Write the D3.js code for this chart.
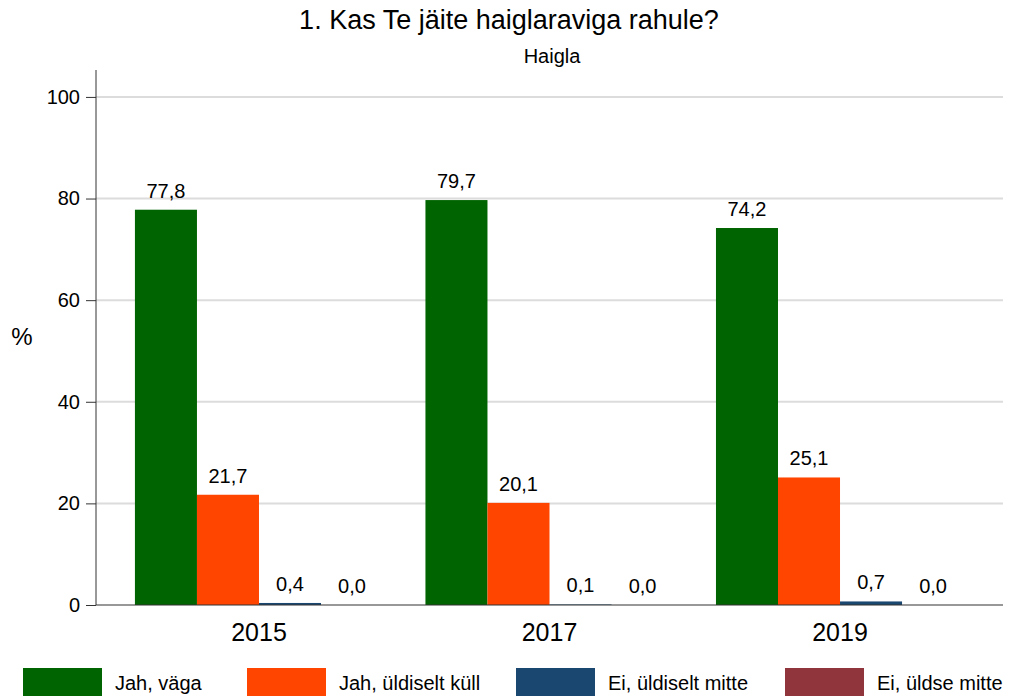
<!DOCTYPE html>
<html>
<head>
<meta charset="utf-8">
<style>
  body { margin: 0; background: #fff; font-family: "Liberation Sans", Arial, sans-serif; }
  svg text { fill: #000; }
</style>
</head>
<body>
<div id="chart"></div>
<script src="https://d3js.org/d3.v7.min.js"></script>
<script>
var years = ['2015', '2017', '2019'];
var series = ['Jah, väga', 'Jah, üldiselt küll', 'Ei, üldiselt mitte', 'Ei, üldse mitte'];
var colors = ['#006400', '#ff4500', '#1a476f', '#90353b'];
var valJahVaga = [77.8, 79.7, 74.2];
var valJahKull = [21.7, 20.1, 25.1];
var valEiMitte = [0.4, 0.1, 0.7];
var valEiUldse = [0.0, 0.0, 0.0];
var yTicks = [0, 20, 40, 60, 80, 100];

var width = 1011, height = 697;
var plot = {left: 96, right: 1003, top: 70, bottom: 605};
var font = '"Liberation Sans", Arial, sans-serif';

var svg = d3.select('#chart').append('svg')
  .attr('width', width).attr('height', height);

var allVals = [valJahVaga, valJahKull, valEiMitte, valEiUldse];
var data = [];
years.forEach(function(yr, i) {
  series.forEach(function(s, j) {
    data.push({year: yr, series: s, value: allVals[j][i]});
  });
});

var x = d3.scaleBand().domain(years).range([plot.left, plot.right])
  .paddingInner(0.146).paddingOuter(0.134);
var xs = d3.scaleBand().domain(series).range([0, x.bandwidth()]);
var y = d3.scaleLinear().domain([0, 105.3]).range([plot.bottom, plot.top]);
var color = d3.scaleOrdinal().domain(series).range(colors);

// gridlines
svg.append('g').selectAll('line').data(yTicks.filter(function(d) { return d > 0; }))
  .enter().append('line')
  .attr('x1', plot.left).attr('x2', plot.right)
  .attr('y1', function(d) { return y(d); }).attr('y2', function(d) { return y(d); })
  .attr('stroke', '#dcdcdc').attr('stroke-width', 2);

// bars
svg.append('g').selectAll('rect').data(data).enter().append('rect')
  .attr('x', function(d) { return x(d.year) + xs(d.series); })
  .attr('width', xs.bandwidth())
  .attr('y', function(d) { return y(d.value); })
  .attr('height', function(d) { return y(0) - y(d.value); })
  .attr('fill', function(d) { return color(d.series); });

// value labels
svg.append('g').selectAll('text').data(data).enter().append('text')
  .attr('x', function(d) { return x(d.year) + xs(d.series) + xs.bandwidth() / 2; })
  .attr('y', function(d) { return y(d.value) - 12; })
  .attr('text-anchor', 'middle')
  .style('font-size', '20px')
  .text(function(d) { return d3.format('.1f')(d.value).replace('.', ','); });

// baseline
svg.append('line')
  .attr('x1', plot.left).attr('x2', plot.right)
  .attr('y1', y(0)).attr('y2', y(0))
  .attr('stroke', '#333').attr('stroke-width', 1.2);

// y axis
var yAxis = svg.append('g')
  .attr('transform', 'translate(' + plot.left + ',0)')
  .call(d3.axisLeft(y).tickValues(yTicks).tickSize(10).tickPadding(6));
yAxis.select('.domain').attr('d', 'M0,' + plot.top + 'V' + plot.bottom).attr('stroke', '#333');
yAxis.selectAll('.tick line').attr('stroke', '#333');
yAxis.selectAll('.tick text').style('font-size', '20px')
  .style('font-family', font).attr('fill', '#000');

// x axis labels
var xAxis = svg.append('g')
  .attr('transform', 'translate(0,' + plot.bottom + ')')
  .call(d3.axisBottom(x).tickSize(0).tickPadding(0));
xAxis.select('.domain').remove();
xAxis.selectAll('.tick text').attr('dy', null).attr('y', 36)
  .style('font-size', '25px')
  .style('font-family', font).attr('fill', '#000');

// y label
svg.append('text').attr('x', 22).attr('y', 345).attr('text-anchor', 'middle')
  .style('font-size', '24px').text('%');

// titles
svg.append('text').attr('x', 509).attr('y', 29).attr('text-anchor', 'middle')
  .style('font-size', '27px').text('1. Kas Te jäite haiglaraviga rahule?');
svg.append('text').attr('x', 552).attr('y', 63).attr('text-anchor', 'middle')
  .style('font-size', '20px').text('Haigla');

// legend
var legendX = [23, 247, 516, 785];
var legend = svg.append('g').selectAll('g').data(series).enter().append('g')
  .attr('transform', function(d, i) { return 'translate(' + legendX[i] + ',668)'; });
legend.append('rect').attr('width', 79).attr('height', 28)
  .attr('fill', function(d) { return color(d); });
legend.append('text').attr('x', 92).attr('y', 22)
  .style('font-size', '20px').text(function(d) { return d; });
</script>
</body>
</html>
